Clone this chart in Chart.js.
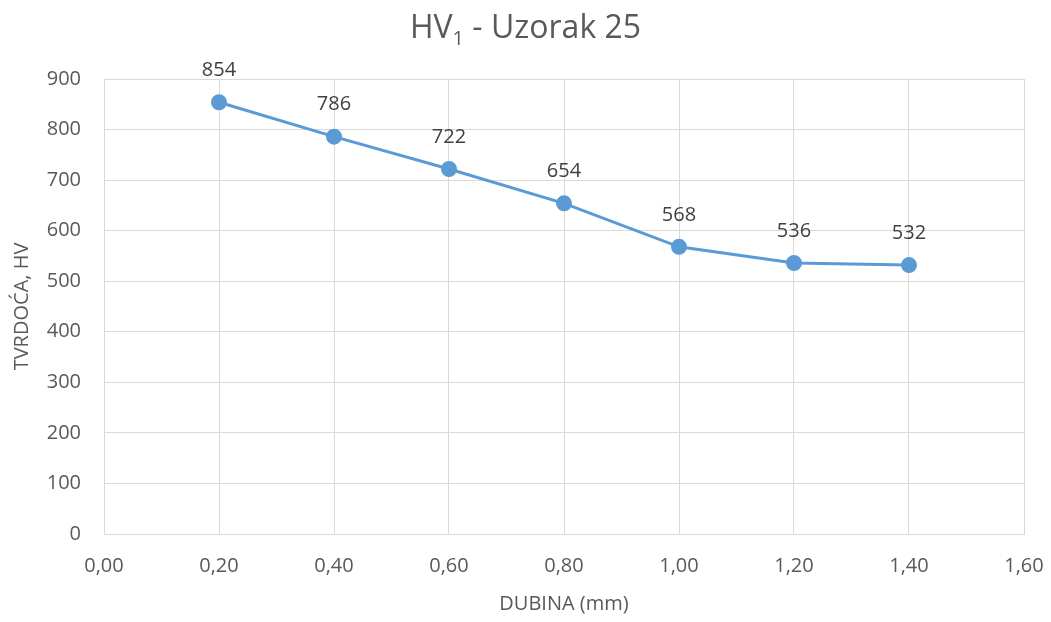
<!DOCTYPE html>
<html>
<head>
<meta charset="utf-8">
<script src="https://cdn.jsdelivr.net/npm/chart.js@4.4.1/dist/chart.umd.min.js"></script>
<style>
  html, body { margin: 0; padding: 0; background: #fff; }
  #wrap { position: relative; width: 1051px; height: 622px; }
  #title {
    position: absolute; top: 4px; left: 0; width: 1051px; text-align: center;
    font-family: "Open Sans", sans-serif; font-size: 32px; color: #595959;
  }
  #title sub { font-size: 20px; vertical-align: -7px; }
</style>
</head>
<body>
<div id="wrap">
  <div id="title">HV<sub>1</sub> - Uzorak 25</div>
  <canvas id="chart" width="1051" height="622"></canvas>
</div>
<script>
const depths = [0.2, 0.4, 0.6, 0.8, 1.0, 1.2, 1.4];
const hardness = [854, 786, 722, 654, 568, 536, 532];
const xTicks = [0, 0.2, 0.4, 0.6, 0.8, 1.0, 1.2, 1.4, 1.6];
const yTicks = [0, 100, 200, 300, 400, 500, 600, 700, 800, 900];

const grey = '#595959';
const gridColor = '#d9d9d9';
const font = { family: '"Open Sans", sans-serif', size: 20 };

// value labels above each point
const pointLabels = {
  id: 'pointLabels',
  afterDatasetsDraw(chart) {
    const ctx = chart.ctx;
    const meta = chart.getDatasetMeta(0);
    ctx.save();
    ctx.font = '20px "Open Sans", sans-serif';
    ctx.fillStyle = '#404040';
    ctx.textAlign = 'center';
    ctx.textBaseline = 'middle';
    meta.data.forEach((pt, i) => {
      ctx.fillText(String(hardness[i]), pt.x, pt.y - 32);
    });
    ctx.restore();
  }
};

new Chart(document.getElementById('chart'), {
  type: 'line',
  data: {
    datasets: [{
      data: depths.map((d, i) => ({ x: d, y: hardness[i] })),
      borderColor: '#5b9bd5',
      backgroundColor: '#5b9bd5',
      borderWidth: 3,
      pointRadius: 6.5,
      pointHoverRadius: 6.5,
      tension: 0
    }]
  },
  options: {
    responsive: false,
    animation: false,
    layout: { padding: { top: 79, right: 27, bottom: 0, left: 0 } },
    plugins: { legend: { display: false }, tooltip: { enabled: false }, title: { display: false } },
    scales: {
      x: {
        type: 'linear',
        min: 0, max: 1.6,
        afterBuildTicks: s => { s.ticks = xTicks.map(v => ({ value: v })); },
        afterFit: s => { s.height = 88; s.paddingLeft = 0; s.paddingRight = 0; },
        grid: { color: gridColor, drawTicks: false },
        border: { color: gridColor },
        ticks: {
          color: grey, font, padding: 20, maxRotation: 0,
          callback: v => v.toFixed(2).replace('.', ',')
        },
        title: {
          display: true, text: 'DUBINA (mm)', color: grey, font,
          padding: { top: 4, bottom: 6 }
        }
      },
      y: {
        min: 0, max: 900,
        afterBuildTicks: s => { s.ticks = yTicks.map(v => ({ value: v })); },
        afterFit: s => { s.width = 104; },
        grid: { color: gridColor, drawTicks: false },
        border: { color: gridColor },
        ticks: { color: grey, font, padding: 23 },
        title: {
          display: true, text: 'TVRDOĆA, HV', color: grey, font,
          padding: { top: 10, bottom: 0 }
        }
      }
    }
  },
  plugins: [pointLabels]
});
</script>
</body>
</html>
